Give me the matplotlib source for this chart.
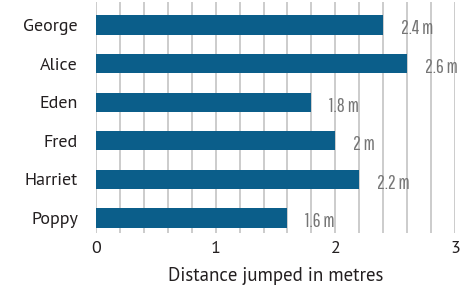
import matplotlib
matplotlib.use("Agg")
import matplotlib.pyplot as plt

names = ["George", "Alice", "Eden", "Fred", "Harriet", "Poppy"]
distances = [2.4, 2.6, 1.8, 2.0, 2.2, 1.6]
value_labels = ["2.4 m", "2.6 m", "1.8 m", "2 m", "2.2 m", "1.6 m"]
xticks = [0, 1, 2, 3]

main_font = ["PT Sans", "DejaVu Sans"]
narrow = ["Pathway Gothic One", "DejaVu Sans"]

fig = plt.figure(figsize=(4.72, 2.93), dpi=100)
ax = fig.add_axes([96/472, 1-233/293, (455-96)/472, 231/293])

ypos = list(range(len(names)))
ax.barh(ypos, distances, height=0.5, color="#0b5e8a", zorder=3)
for y, d, lab in zip(ypos, distances, value_labels):
    ax.text(d + 0.15, y + 0.1, lab, fontsize=14, color="#757575",
            family=narrow, va="center", ha="left", zorder=4)

ax.set_xlim(0, 3)
ax.set_ylim(5.39, -0.6)
ax.set_xticks([i * 0.2 for i in range(16)], minor=True)
ax.set_xticks(xticks)
ax.set_xticklabels([str(t) for t in xticks], fontsize=13, family=main_font,
                   color="#231f20")
ax.grid(axis="x", which="both", color="#cccccc", linewidth=1.4, zorder=0)
ax.set_yticks(ypos)
ax.set_yticklabels(names, fontsize=13, family=main_font, color="#231f20")
ax.tick_params(axis="y", length=0, pad=13)
ax.tick_params(axis="x", which="both", length=0, pad=6)
for s in ax.spines.values():
    s.set_visible(False)
ax.set_xlabel("Distance jumped in metres", fontsize=13.6, family=main_font,
              color="#231f20", labelpad=7)
fig.savefig("out.png", dpi=100)
